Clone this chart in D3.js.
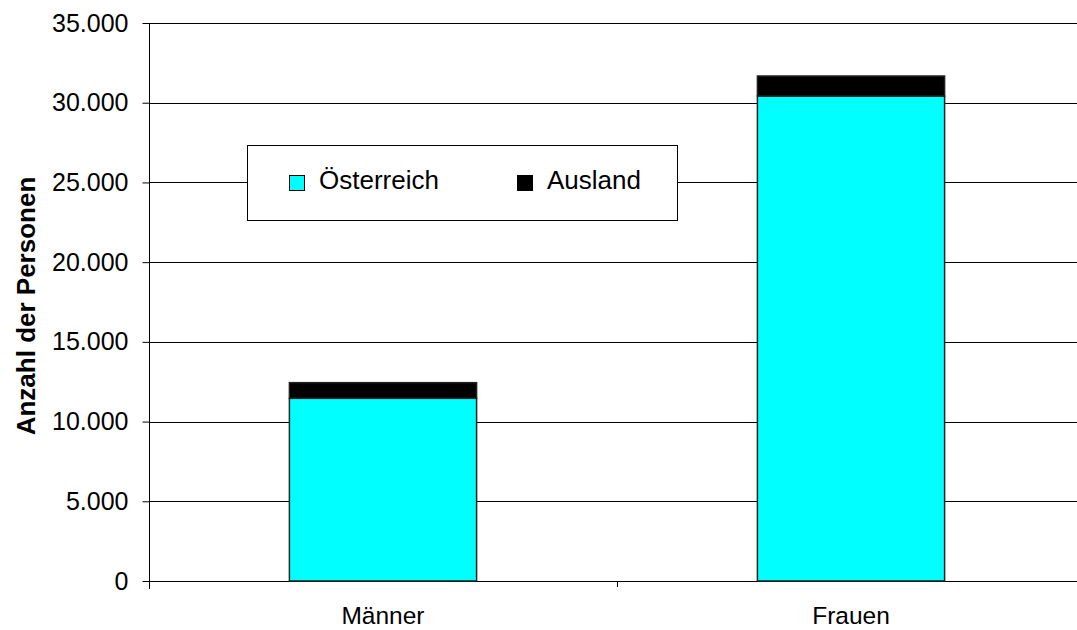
<!DOCTYPE html>
<html>
<head>
<meta charset="utf-8">
<script src="https://cdn.jsdelivr.net/npm/d3@7"></script>
<style>
  body { margin: 0; background: #fff; }
  svg { display: block; font-family: "Liberation Sans", Arial, sans-serif; }
</style>
</head>
<body>
<svg id="chart" width="1077" height="630"></svg>
<script>
const categories = ["Männer", "Frauen"];
const oesterreich = [11460, 30420];
const ausland = [980, 1255];
const seriesNames = ["Österreich", "Ausland"];
const seriesColors = ["#00ffff", "#000000"];
const yTicks = [0, 5000, 10000, 15000, 20000, 25000, 30000, 35000];

const width = 1077;
const height = 630;
const margin = { left: 149, right: -8, top: 23, bottom: 49 };
const svg = d3.select("#chart");

const x = d3.scaleBand()
  .domain(categories)
  .range([margin.left, width - margin.right])
  .paddingInner(0.6)
  .paddingOuter(0.3);

const y = d3.scaleLinear()
  .domain([0, 35000])
  .range([height - margin.bottom, margin.top]);

const fmt = d => d3.format(",")(d).replace(/,/g, ".");

// gridlines
svg.append("g")
  .selectAll("line")
  .data(yTicks)
  .join("line")
  .attr("x1", margin.left)
  .attr("x2", width)
  .attr("y1", d => Math.round(y(d)) + 0.5)
  .attr("y2", d => Math.round(y(d)) + 0.5)
  .attr("stroke", "#000")
  .attr("stroke-width", 1);

// y axis
const yAxis = svg.append("g")
  .attr("transform", `translate(${margin.left + 0.5},0)`)
  .call(d3.axisLeft(y).tickValues(yTicks).tickFormat(fmt).tickSize(7).tickPadding(14));
yAxis.select(".domain").attr("d", `M0,${y(35000)}V${y(0) + 8}`);
yAxis.selectAll("text")
  .attr("font-size", 25)
  .attr("fill", "#000")
  .attr("font-family", "Liberation Sans, Arial, sans-serif");

// x axis tick between categories
const mid = (x("Männer") + x.bandwidth() + x("Frauen")) / 2;
svg.append("line")
  .attr("x1", Math.round(mid) + 0.5).attr("x2", Math.round(mid) + 0.5)
  .attr("y1", y(0)).attr("y2", y(0) + 6)
  .attr("stroke", "#000");

svg.selectAll("text.xlabel")
  .data(categories)
  .join("text")
  .attr("class", "xlabel")
  .attr("x", d => x(d) + x.bandwidth() / 2)
  .attr("y", 624)
  .attr("text-anchor", "middle")
  .attr("font-size", 24.5)
  .text(d => d);

// stacked bars
const rows = categories.map((c, i) => ({ cat: c, "Österreich": oesterreich[i], "Ausland": ausland[i] }));
const stack = d3.stack().keys(seriesNames)(rows);

svg.append("g")
  .selectAll("g")
  .data(stack)
  .join("g")
  .attr("fill", (d, i) => seriesColors[i])
  .selectAll("rect")
  .data(d => d)
  .join("rect")
  .attr("x", d => x(d.data.cat))
  .attr("y", d => y(d[1]))
  .attr("width", x.bandwidth())
  .attr("height", d => y(d[0]) - y(d[1]))
  .attr("stroke", "#222")
  .attr("stroke-width", 1.5);

// y title
svg.append("text")
  .attr("transform", "translate(35,306) rotate(-90)")
  .attr("text-anchor", "middle")
  .attr("font-size", 26)
  .attr("font-weight", "bold")
  .text("Anzahl der Personen");

// legend
const legend = svg.append("g");
legend.append("rect")
  .attr("x", 247.5).attr("y", 145.5)
  .attr("width", 430).attr("height", 75)
  .attr("fill", "#fff").attr("stroke", "#000");

const legendX = [289, 517];
seriesNames.forEach((s, i) => {
  legend.append("rect")
    .attr("x", legendX[i] + 0.5).attr("y", 175.5)
    .attr("width", 15).attr("height", 15)
    .attr("fill", seriesColors[i])
    .attr("stroke", "#000");
  legend.append("text")
    .attr("x", legendX[i] + 30).attr("y", 189)
    .attr("font-size", 26)
    .text(s);
});
</script>
</body>
</html>
